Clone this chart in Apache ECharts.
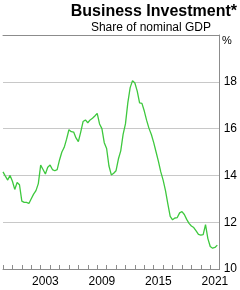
<!DOCTYPE html>
<html>
<head>
<meta charset="utf-8">
<script src="https://cdn.jsdelivr.net/npm/echarts@6/dist/echarts.min.js"></script>
<style>
  html, body { margin: 0; padding: 0; background: #fff; }
  #chart { width: 240px; height: 290px; }
</style>
</head>
<body>
<div id="chart"></div>
<script>
// quarterly, starting 1999 Q1
const startYear = 1999;
const investmentShare = [
  14.15, 13.97, 13.8, 14.0, 13.75, 13.4, 13.7, 13.6,
  12.9, 12.85, 12.85, 12.8, 13.0, 13.2, 13.35, 13.65,
  14.44, 14.25, 14.06, 14.35, 14.44, 14.25, 14.2, 14.25,
  14.66, 15.0, 15.2, 15.55, 15.95, 15.87, 15.85, 15.6,
  15.44, 15.85, 16.3, 16.37, 16.25, 16.37, 16.44, 16.54,
  16.65, 16.2, 16.0, 15.4, 15.15, 14.4, 14.02, 14.09,
  14.2, 14.7, 15.05, 15.75, 16.2, 17.1, 17.75, 18.05,
  17.95, 17.6, 17.1, 17.08, 16.75, 16.35, 16.01, 15.75,
  15.4, 15.0, 14.6, 14.15, 13.8, 13.35, 12.78, 12.25,
  12.1, 12.18, 12.2, 12.4, 12.45, 12.33, 12.12, 11.95,
  11.84, 11.77, 11.63, 11.48, 11.45, 11.47, 11.9, 11.3,
  10.96, 10.89, 10.92, 11.02
];
const yearLabels = [2003, 2009, 2015, 2021];
const yTicks = [10, 12, 14, 16, 18];

const font = "'Liberation Sans', Arial, sans-serif";
const axisGrey = '#8c8c8c';

const seriesData = investmentShare.map((v, i) => [startYear + i / 4, v]);

const chart = echarts.init(document.getElementById('chart'), null, { renderer: 'canvas' });

chart.setOption({
  animation: false,
  backgroundColor: '#fff',
  title: [
    {
      text: 'Business Investment*',
      right: 3, top: 4, padding: 0,
      textStyle: { fontFamily: font, fontSize: 16, fontWeight: 'bold', color: '#000' }
    },
    {
      text: 'Share of nominal GDP',
      right: 29, top: 22, padding: 0,
      textStyle: { fontFamily: font, fontSize: 12, fontWeight: 'normal', color: '#000' }
    }
  ],
  graphic: [
    {
      type: 'text', left: 222, top: 35,
      style: { text: '%', font: '11px ' + font, fill: '#000' }
    }
  ],
  grid: { left: 0, right: 20, top: 35, bottom: 21, containLabel: false },
  xAxis: [
    {
      type: 'value', position: 'bottom', min: 1999, max: 2022, interval: 1,
      axisLine: { show: true, lineStyle: { color: axisGrey, width: 1 } },
      axisTick: { show: true, inside: true, length: 4, lineStyle: { color: axisGrey } },
      axisLabel: { show: false },
      splitLine: { show: false }
    },
    {
      type: 'value', position: 'bottom', min: 1999, max: 2022, interval: 0.5,
      axisLine: { show: false },
      axisTick: { show: false },
      splitLine: { show: false },
      axisLabel: {
        show: true, margin: 7, fontFamily: font, fontSize: 12, color: '#000',
        formatter: (v) => {
          const y = v - 0.5;
          return yearLabels.includes(y) ? String(y) : '';
        }
      }
    },
    {
      type: 'value', position: 'top', min: 1999, max: 2022,
      axisLine: { show: true, lineStyle: { color: axisGrey, width: 1 } },
      axisTick: { show: false },
      axisLabel: { show: false },
      splitLine: { show: false }
    }
  ],
  yAxis: {
    type: 'value', position: 'right', min: 10, max: 20, interval: 2,
    axisLine: { show: true, lineStyle: { color: axisGrey, width: 1 } },
    axisTick: { show: false },
    splitLine: { show: true, lineStyle: { color: '#c8c8c8', width: 1 } },
    axisLabel: {
      margin: 4, fontFamily: font, fontSize: 12, color: '#000',
      formatter: (v) => (yTicks.includes(v) ? String(v) : '')
    }
  },
  series: [
    {
      type: 'line',
      xAxisIndex: 0,
      data: seriesData,
      showSymbol: false,
      lineStyle: { color: '#3ec83e', width: 1.3 },
      clip: true
    }
  ]
});
</script>
</body>
</html>
